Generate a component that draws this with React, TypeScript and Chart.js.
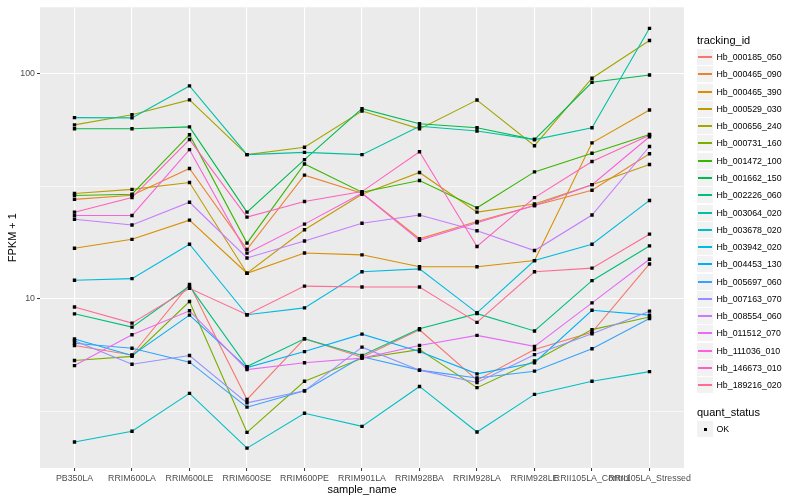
import React, { useEffect, useRef } from "react";
import { Chart, registerables } from "chart.js";

Chart.register(...registerables);

const FONT = "'Liberation Sans', Arial, Helvetica, sans-serif";

const categories = [
  "PB350LA",
  "RRIM600LA",
  "RRIM600LE",
  "RRIM600SE",
  "RRIM600PE",
  "RRIM901LA",
  "RRIM928BA",
  "RRIM928LA",
  "RRIM928LE",
  "RRII105LA_Control",
  "RRII105LA_Stressed",
];

const trackingIds = [
  "Hb_000185_050",
  "Hb_000465_090",
  "Hb_000465_390",
  "Hb_000529_030",
  "Hb_000656_240",
  "Hb_000731_160",
  "Hb_001472_100",
  "Hb_001662_150",
  "Hb_002226_060",
  "Hb_003064_020",
  "Hb_003678_020",
  "Hb_003942_020",
  "Hb_004453_130",
  "Hb_005697_060",
  "Hb_007163_070",
  "Hb_008554_060",
  "Hb_011512_070",
  "Hb_111036_010",
  "Hb_146673_010",
  "Hb_189216_020",
];

const seriesColors = [
  "#F8766D", "#EA8331", "#D89000", "#C09B00", "#A3A500",
  "#7CAE00", "#39B600", "#00BB4E", "#00BF7D", "#00C1A3",
  "#00BFC4", "#00BAE0", "#00B0F6", "#35A2FF", "#9590FF",
  "#C77CFF", "#E76BF3", "#FA62DB", "#FF62BC", "#FF6C91",
];

// FPKM + 1 values, one per sample_name
const hb000185_050 = [6.2, 5.63, 11.6, 3.57, 6.65, 5.5, 7.29, 4.35, 5.95, 7.1, 14.3];
const hb000465_090 = [27.7, 28.9, 38.0, 16.6, 35.5, 29.5, 18.5, 22.1, 26.0, 30.4, 44.2];
const hb000465_390 = [16.8, 18.4, 22.4, 13.0, 16.0, 15.7, 13.9, 13.9, 14.8, 49.4, 69.2];
const hb000529_030 = [29.4, 30.7, 32.9, 13.0, 20.3, 29.2, 36.5, 24.3, 26.4, 32.2, 39.6];
const hb000656_240 = [59.4, 65.9, 76.7, 43.8, 47.2, 68.4, 57.0, 76.6, 48.0, 95.8, 141];
const hb000731_160 = [5.32, 5.55, 9.73, 2.55, 4.3, 5.45, 5.95, 4.03, 5.3, 7.3, 8.3];
const hb001472_100 = [28.8, 29.2, 53.7, 17.7, 39.8, 29.8, 33.6, 25.4, 36.7, 44.4, 53.8];
const hb001662_150 = [57.1, 57.1, 58.2, 24.3, 41.6, 70.1, 60.1, 57.7, 51.1, 91.9, 99];
const hb002226_060 = [8.58, 7.49, 11.4, 5.0, 6.65, 5.6, 7.37, 8.6, 7.2, 12.05, 17.2];
const hb003064_020 = [64, 63.8, 88.5, 43.8, 44.8, 43.8, 58.6, 55.8, 51.1, 57.7, 159.6];
const hb003678_020 = [2.31, 2.58, 3.8, 2.17, 3.1, 2.71, 4.08, 2.56, 3.76, 4.3, 4.75];
const hb003942_020 = [12.1, 12.3, 17.5, 8.5, 9.12, 13.2, 13.6, 8.67, 14.8, 17.5, 27.4];
const hb004453_130 = [6.63, 5.6, 8.47, 4.95, 5.83, 6.97, 5.83, 4.64, 5.2, 8.9, 8.47];
const hb005697_060 = [6.35, 6.03, 5.23, 3.3, 3.9, 5.53, 4.82, 4.45, 4.77, 6.0, 8.18];
const hb007163_070 = [6.52, 5.12, 5.6, 3.45, 3.9, 6.1, 4.82, 4.25, 5.65, 7.0, 8.82];
const hb008554_060 = [22.6, 21.3, 26.9, 15.2, 18.1, 21.7, 23.6, 20.1, 16.4, 23.6, 47.6];
const hb011512_070 = [5.05, 6.93, 8.85, 4.85, 5.2, 5.45, 6.2, 6.88, 6.15, 9.6, 15.0];
const hb111036_010 = [23.5, 23.5, 46.1, 15.97, 21.5, 29.5, 18.2, 21.8, 26.0, 32.2, 52.6];
const hb146673_010 = [24.3, 28.2, 51.1, 23.1, 27.1, 30.0, 45.1, 17.1, 28.2, 40.8, 53.4];
const hb189216_020 = [9.2, 7.8, 11.15, 8.5, 11.4, 11.3, 11.3, 7.86, 13.2, 13.7, 19.4];

const seriesValues = [
  hb000185_050, hb000465_090, hb000465_390, hb000529_030, hb000656_240,
  hb000731_160, hb001472_100, hb001662_150, hb002226_060, hb003064_020,
  hb003678_020, hb003942_020, hb004453_130, hb005697_060, hb007163_070,
  hb008554_060, hb011512_070, hb111036_010, hb146673_010, hb189216_020,
];

const yMajorTicks = [10, 100];
const yGridValues = [Math.sqrt(10), 10, Math.sqrt(1000), 100];
const yMin = 1.77;
const yMax = 198;

const quantStatus = ["OK"];

const isMajor = (v: number) => yMajorTicks.some((m) => Math.abs(m - v) < 1e-6);

const panelBg = {
  id: "panelBg",
  beforeDraw(chart: any) {
    const { ctx, chartArea } = chart;
    if (!chartArea) return;
    ctx.save();
    ctx.fillStyle = "#EBEBEB";
    ctx.fillRect(chartArea.left, chartArea.top, chartArea.right - chartArea.left, chartArea.bottom - chartArea.top);
    ctx.restore();
  },
};

export default function App() {
  const canvasRef = useRef<HTMLCanvasElement | null>(null);

  useEffect(() => {
    if (!canvasRef.current) return;
    const lineSets = seriesValues.map((vals, idx) => ({
      type: "line" as const,
      label: trackingIds[idx],
      data: vals.map((v, i) => ({ x: i, y: v })),
      borderColor: seriesColors[idx],
      backgroundColor: seriesColors[idx],
      borderWidth: 1.1,
      pointRadius: 0,
      tension: 0,
      fill: false,
      order: 20 - idx,
    }));
    const pointSet = {
      type: "scatter" as const,
      label: quantStatus[0],
      data: seriesValues.flatMap((vals) => vals.map((v, i) => ({ x: i, y: v }))),
      backgroundColor: "#000000",
      borderColor: "#000000",
      borderWidth: 0,
      pointStyle: "rect",
      pointRadius: 2.4,
      showLine: false,
      order: 0,
    };

    const chart = new Chart(canvasRef.current, {
      type: "line",
      data: { datasets: [...lineSets, pointSet] as any },
      plugins: [panelBg],
      options: {
        responsive: false,
        animation: false,
        events: [],
        layout: { padding: { left: 0, right: 116, top: 5, bottom: 0 } },
        plugins: {
          legend: { display: false },
          tooltip: { enabled: false },
        },
        scales: {
          x: {
            type: "linear",
            min: -0.6,
            max: 10.6,
            afterBuildTicks: (s: any) => {
              s.ticks = categories.map((_, i) => ({ value: i }));
            },
            afterFit: (s: any) => {
              s.height = 32;
            },
            ticks: {
              autoSkip: false,
              maxRotation: 0,
              minRotation: 0,
              padding: 2,
              color: "#4D4D4D",
              font: { family: FONT, size: 8.8 },
              callback: (v: any) => categories[v as number] ?? "",
            },
            grid: {
              color: "#FFFFFF",
              lineWidth: 1.1,
              tickLength: 3,
              tickColor: "#333333",
              tickWidth: 1,
            },
            border: { display: false },
            title: {
              display: true,
              text: "sample_name",
              color: "#000000",
              font: { family: FONT, size: 11 },
              padding: { top: 0, bottom: 3 },
            },
          },
          y: {
            type: "logarithmic",
            min: yMin,
            max: yMax,
            afterBuildTicks: (s: any) => {
              s.ticks = yGridValues.map((v) => ({ value: v }));
            },
            afterFit: (s: any) => {
              s.width = 40;
            },
            ticks: {
              autoSkip: false,
              padding: 2,
              color: "#4D4D4D",
              font: { family: FONT, size: 8.8 },
              callback: (v: any) => (isMajor(Number(v)) ? String(Math.round(Number(v))) : ""),
            },
            grid: {
              color: "#FFFFFF",
              lineWidth: (c: any) => (c.tick && isMajor(c.tick.value) ? 1.1 : 0.55),
              tickColor: (c: any) => (c.tick && isMajor(c.tick.value) ? "#333333" : "rgba(0,0,0,0)"),
              tickLength: 3,
              tickWidth: 1,
            },
            border: { display: false },
            title: {
              display: true,
              text: "FPKM + 1",
              color: "#000000",
              font: { family: FONT, size: 11 },
              padding: { top: 6, bottom: 0 },
            },
          },
        },
      } as any,
    });
    return () => chart.destroy();
  }, []);

  const keySize = 17.28;
  const legendLeft = 697;
  const firstKeyTop = 49;

  return (
    <div
      style={{
        position: "absolute",
        left: 0,
        top: 0,
        width: 800,
        height: 500,
        background: "#FFFFFF",
        fontFamily: FONT,
        overflow: "hidden",
      }}
    >
      <canvas ref={canvasRef} width={800} height={500} style={{ position: "absolute", left: 0, top: 0 }} />
      <div
        style={{
          position: "absolute",
          left: legendLeft,
          top: 34,
          fontSize: 11,
          lineHeight: "13px",
          color: "#000",
          whiteSpace: "nowrap",
        }}
      >
        tracking_id
      </div>
      {trackingIds.map((id, i) => {
        const top = Math.round(firstKeyTop + i * keySize);
        return (
          <React.Fragment key={id}>
            <div
              style={{
                position: "absolute",
                left: legendLeft,
                top: top,
                width: 16,
                height: 16,
                background: "#F2F2F2",
              }}
            >
              <div
                style={{
                  position: "absolute",
                  left: 1,
                  top: 7,
                  width: 14,
                  height: 1.5,
                  background: seriesColors[i],
                }}
              />
            </div>
            <div
              style={{
                position: "absolute",
                left: 716.5,
                top: top,
                height: 16,
                lineHeight: "16px",
                fontSize: 8.8,
                color: "#000",
                whiteSpace: "nowrap",
              }}
            >
              {id}
            </div>
          </React.Fragment>
        );
      })}
      <div
        style={{
          position: "absolute",
          left: legendLeft,
          top: 406,
          fontSize: 11,
          lineHeight: "13px",
          color: "#000",
          whiteSpace: "nowrap",
        }}
      >
        quant_status
      </div>
      <div
        style={{
          position: "absolute",
          left: legendLeft,
          top: 421,
          width: 16,
          height: 16,
          background: "#F2F2F2",
        }}
      >
        <div
          style={{
            position: "absolute",
            left: 6.5,
            top: 6.5,
            width: 3,
            height: 3,
            background: "#000",
          }}
        />
      </div>
      <div
        style={{
          position: "absolute",
          left: 716.5,
          top: 421,
          height: 16,
          lineHeight: "16px",
          fontSize: 8.8,
          color: "#000",
          whiteSpace: "nowrap",
        }}
      >
        {quantStatus[0]}
      </div>
    </div>
  );
}
